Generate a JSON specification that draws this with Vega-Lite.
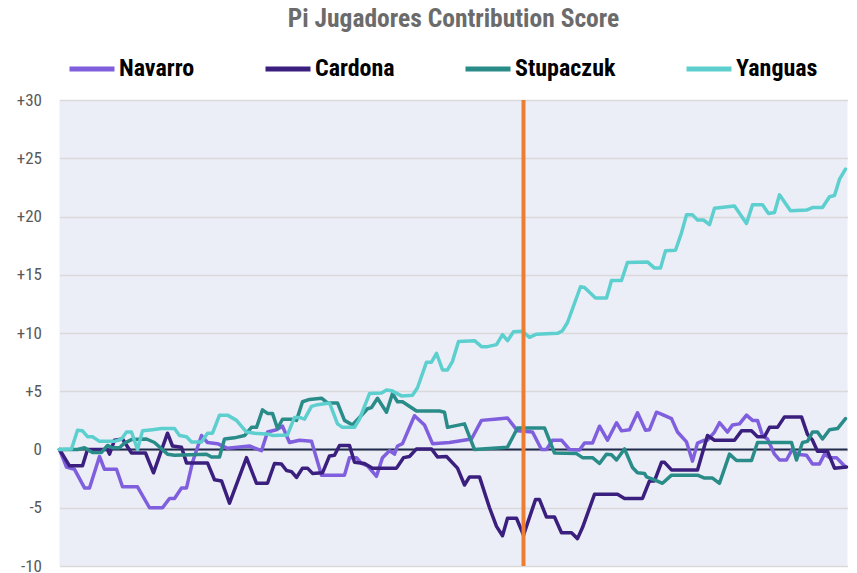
{
  "$schema": "https://vega.github.io/schema/vega-lite/v6.json",
  "autosize": {"type": "none"},
  "width": 788,
  "height": 466,
  "padding": {"left": 59.5, "top": 100, "right": 9.5, "bottom": 7},
  "background": "white",
  "title": {
    "text": "Pi Jugadores Contribution Score",
    "anchor": "middle",
    "frame": "group",
    "font": "Roboto Condensed, Liberation Sans Narrow, Roboto, sans-serif",
    "fontSize": 25.5,
    "fontWeight": "bold",
    "color": "#6b6b6b",
    "offset": 12
  },
  "config": {
    "view": {"fill": "#eceef7", "stroke": null},
    "axis": {"labelFont": "Roboto Condensed, Liberation Sans Narrow, Roboto, sans-serif"}
  },
  "datasets": {
    "series": [
      {"s":"Navarro","x":0,"v":0},{"s":"Navarro","x":7,"v":-1.5},{"s":"Navarro","x":15,"v":-1.7},{"s":"Navarro","x":25,"v":-3.3},{"s":"Navarro","x":30,"v":-3.3},{"s":"Navarro","x":40,"v":-0.6},{"s":"Navarro","x":45,"v":-1.7},{"s":"Navarro","x":57,"v":-1.7},{"s":"Navarro","x":63,"v":-3.2},{"s":"Navarro","x":78,"v":-3.2},{"s":"Navarro","x":90,"v":-5.0},{"s":"Navarro","x":103,"v":-5.0},{"s":"Navarro","x":110,"v":-4.2},{"s":"Navarro","x":115,"v":-4.2},{"s":"Navarro","x":122,"v":-3.3},{"s":"Navarro","x":127,"v":-3.3},{"s":"Navarro","x":133,"v":-1.1},{"s":"Navarro","x":142,"v":1.2},{"s":"Navarro","x":148,"v":0.6},{"s":"Navarro","x":158,"v":0.5},{"s":"Navarro","x":168,"v":0.1},{"s":"Navarro","x":190,"v":0.3},{"s":"Navarro","x":202,"v":-0.1},{"s":"Navarro","x":208,"v":1.5},{"s":"Navarro","x":217,"v":1.7},{"s":"Navarro","x":223,"v":2.0},{"s":"Navarro","x":230,"v":0.6},{"s":"Navarro","x":240,"v":0.8},{"s":"Navarro","x":252,"v":0.7},{"s":"Navarro","x":262,"v":-2.2},{"s":"Navarro","x":285,"v":-2.2},{"s":"Navarro","x":290,"v":-0.7},{"s":"Navarro","x":297,"v":-0.7},{"s":"Navarro","x":302,"v":-1.2},{"s":"Navarro","x":308,"v":-1.4},{"s":"Navarro","x":317,"v":-2.3},{"s":"Navarro","x":323,"v":-0.7},{"s":"Navarro","x":330,"v":-0.1},{"s":"Navarro","x":335,"v":-0.4},{"s":"Navarro","x":338,"v":0.3},{"s":"Navarro","x":343,"v":0.5},{"s":"Navarro","x":355,"v":2.9},{"s":"Navarro","x":365,"v":2.1},{"s":"Navarro","x":373,"v":0.5},{"s":"Navarro","x":390,"v":0.6},{"s":"Navarro","x":398,"v":0.7},{"s":"Navarro","x":412,"v":0.9},{"s":"Navarro","x":422,"v":2.5},{"s":"Navarro","x":435,"v":2.6},{"s":"Navarro","x":448,"v":2.7},{"s":"Navarro","x":458,"v":1.6},{"s":"Navarro","x":473,"v":1.5},{"s":"Navarro","x":482,"v":0},{"s":"Navarro","x":487,"v":0},{"s":"Navarro","x":493,"v":0.8},{"s":"Navarro","x":502,"v":0.8},{"s":"Navarro","x":510,"v":0},{"s":"Navarro","x":520,"v":-0.05},{"s":"Navarro","x":525,"v":0.55},{"s":"Navarro","x":533,"v":0.55},{"s":"Navarro","x":540,"v":2.0},{"s":"Navarro","x":548,"v":0.8},{"s":"Navarro","x":557,"v":2.3},{"s":"Navarro","x":562,"v":1.6},{"s":"Navarro","x":570,"v":1.7},{"s":"Navarro","x":578,"v":3.15},{"s":"Navarro","x":586,"v":1.65},{"s":"Navarro","x":590,"v":1.7},{"s":"Navarro","x":597,"v":3.2},{"s":"Navarro","x":603,"v":3.0},{"s":"Navarro","x":612,"v":2.65},{"s":"Navarro","x":618,"v":1.5},{"s":"Navarro","x":627,"v":0.65},{"s":"Navarro","x":633,"v":-1.0},{"s":"Navarro","x":638,"v":0.55},{"s":"Navarro","x":645,"v":0.8},{"s":"Navarro","x":648,"v":0.8},{"s":"Navarro","x":655,"v":1.5},{"s":"Navarro","x":660,"v":2.3},{"s":"Navarro","x":668,"v":1.5},{"s":"Navarro","x":673,"v":2.1},{"s":"Navarro","x":680,"v":2.2},{"s":"Navarro","x":687,"v":2.95},{"s":"Navarro","x":693,"v":2.5},{"s":"Navarro","x":698,"v":2.5},{"s":"Navarro","x":703,"v":1.2},{"s":"Navarro","x":708,"v":0.9},{"s":"Navarro","x":715,"v":-0.4},{"s":"Navarro","x":720,"v":-0.9},{"s":"Navarro","x":727,"v":-0.9},{"s":"Navarro","x":733,"v":0.05},{"s":"Navarro","x":737,"v":-0.4},{"s":"Navarro","x":747,"v":-0.5},{"s":"Navarro","x":753,"v":-1.25},{"s":"Navarro","x":760,"v":-1.25},{"s":"Navarro","x":765,"v":-0.4},{"s":"Navarro","x":770,"v":-0.7},{"s":"Navarro","x":777,"v":-0.7},{"s":"Navarro","x":786,"v":-1.5},
      {"s":"Cardona","x":0,"v":0},{"s":"Cardona","x":10,"v":-1.4},{"s":"Cardona","x":23,"v":-1.4},{"s":"Cardona","x":28,"v":0},{"s":"Cardona","x":48,"v":0},{"s":"Cardona","x":50,"v":-0.4},{"s":"Cardona","x":55,"v":0.8},{"s":"Cardona","x":63,"v":0.9},{"s":"Cardona","x":72,"v":-0.3},{"s":"Cardona","x":86,"v":-0.3},{"s":"Cardona","x":94,"v":-2.0},{"s":"Cardona","x":108,"v":1.4},{"s":"Cardona","x":113,"v":0.3},{"s":"Cardona","x":122,"v":0.2},{"s":"Cardona","x":127,"v":-1.15},{"s":"Cardona","x":148,"v":-1.15},{"s":"Cardona","x":155,"v":-2.6},{"s":"Cardona","x":162,"v":-2.7},{"s":"Cardona","x":170,"v":-4.6},{"s":"Cardona","x":187,"v":-0.7},{"s":"Cardona","x":197,"v":-2.9},{"s":"Cardona","x":208,"v":-2.9},{"s":"Cardona","x":215,"v":-1.2},{"s":"Cardona","x":222,"v":-1.25},{"s":"Cardona","x":227,"v":-1.8},{"s":"Cardona","x":232,"v":-1.9},{"s":"Cardona","x":237,"v":-2.4},{"s":"Cardona","x":243,"v":-1.6},{"s":"Cardona","x":248,"v":-1.6},{"s":"Cardona","x":253,"v":-2.05},{"s":"Cardona","x":263,"v":-2.0},{"s":"Cardona","x":270,"v":-0.55},{"s":"Cardona","x":275,"v":-0.5},{"s":"Cardona","x":280,"v":0.35},{"s":"Cardona","x":290,"v":0.35},{"s":"Cardona","x":295,"v":-1.1},{"s":"Cardona","x":305,"v":-1.2},{"s":"Cardona","x":313,"v":-1.6},{"s":"Cardona","x":337,"v":-1.6},{"s":"Cardona","x":344,"v":-0.7},{"s":"Cardona","x":350,"v":-0.6},{"s":"Cardona","x":357,"v":0.05},{"s":"Cardona","x":372,"v":0.05},{"s":"Cardona","x":378,"v":-0.65},{"s":"Cardona","x":387,"v":-0.6},{"s":"Cardona","x":398,"v":-1.6},{"s":"Cardona","x":405,"v":-3.05},{"s":"Cardona","x":410,"v":-2.35},{"s":"Cardona","x":420,"v":-2.35},{"s":"Cardona","x":430,"v":-5.0},{"s":"Cardona","x":437,"v":-6.6},{"s":"Cardona","x":443,"v":-7.4},{"s":"Cardona","x":448,"v":-5.9},{"s":"Cardona","x":457,"v":-5.9},{"s":"Cardona","x":464,"v":-7.35},{"s":"Cardona","x":476,"v":-4.3},{"s":"Cardona","x":480,"v":-4.3},{"s":"Cardona","x":487,"v":-5.8},{"s":"Cardona","x":495,"v":-5.8},{"s":"Cardona","x":502,"v":-7.15},{"s":"Cardona","x":512,"v":-7.15},{"s":"Cardona","x":518,"v":-7.65},{"s":"Cardona","x":523,"v":-6.7},{"s":"Cardona","x":535,"v":-3.85},{"s":"Cardona","x":558,"v":-3.85},{"s":"Cardona","x":565,"v":-4.2},{"s":"Cardona","x":583,"v":-4.2},{"s":"Cardona","x":590,"v":-2.7},{"s":"Cardona","x":595,"v":-2.7},{"s":"Cardona","x":602,"v":-1.1},{"s":"Cardona","x":605,"v":-1.1},{"s":"Cardona","x":612,"v":-1.75},{"s":"Cardona","x":638,"v":-1.75},{"s":"Cardona","x":648,"v":1.2},{"s":"Cardona","x":655,"v":0.8},{"s":"Cardona","x":675,"v":0.8},{"s":"Cardona","x":682,"v":1.6},{"s":"Cardona","x":692,"v":1.6},{"s":"Cardona","x":698,"v":1.1},{"s":"Cardona","x":705,"v":1.1},{"s":"Cardona","x":710,"v":1.9},{"s":"Cardona","x":718,"v":1.9},{"s":"Cardona","x":725,"v":2.8},{"s":"Cardona","x":742,"v":2.8},{"s":"Cardona","x":748,"v":1.3},{"s":"Cardona","x":753,"v":0.8},{"s":"Cardona","x":758,"v":-0.15},{"s":"Cardona","x":768,"v":-0.15},{"s":"Cardona","x":775,"v":-1.6},{"s":"Cardona","x":787,"v":-1.5},
      {"s":"Stupaczuk","x":0,"v":0},{"s":"Stupaczuk","x":18,"v":0},{"s":"Stupaczuk","x":25,"v":0.15},{"s":"Stupaczuk","x":33,"v":-0.25},{"s":"Stupaczuk","x":42,"v":-0.25},{"s":"Stupaczuk","x":48,"v":0.35},{"s":"Stupaczuk","x":53,"v":0.15},{"s":"Stupaczuk","x":60,"v":0.15},{"s":"Stupaczuk","x":65,"v":0.55},{"s":"Stupaczuk","x":72,"v":0.85},{"s":"Stupaczuk","x":87,"v":0.9},{"s":"Stupaczuk","x":95,"v":0.6},{"s":"Stupaczuk","x":108,"v":-0.4},{"s":"Stupaczuk","x":115,"v":-0.5},{"s":"Stupaczuk","x":147,"v":-0.4},{"s":"Stupaczuk","x":152,"v":-0.65},{"s":"Stupaczuk","x":160,"v":-0.65},{"s":"Stupaczuk","x":165,"v":0.9},{"s":"Stupaczuk","x":175,"v":1.0},{"s":"Stupaczuk","x":185,"v":1.2},{"s":"Stupaczuk","x":192,"v":1.9},{"s":"Stupaczuk","x":197,"v":1.9},{"s":"Stupaczuk","x":203,"v":3.4},{"s":"Stupaczuk","x":208,"v":3.1},{"s":"Stupaczuk","x":213,"v":3.1},{"s":"Stupaczuk","x":218,"v":1.8},{"s":"Stupaczuk","x":223,"v":2.6},{"s":"Stupaczuk","x":232,"v":2.6},{"s":"Stupaczuk","x":237,"v":2.5},{"s":"Stupaczuk","x":243,"v":4.1},{"s":"Stupaczuk","x":250,"v":4.3},{"s":"Stupaczuk","x":262,"v":4.4},{"s":"Stupaczuk","x":268,"v":4.0},{"s":"Stupaczuk","x":278,"v":4.0},{"s":"Stupaczuk","x":285,"v":2.5},{"s":"Stupaczuk","x":293,"v":2.1},{"s":"Stupaczuk","x":308,"v":3.5},{"s":"Stupaczuk","x":312,"v":3.6},{"s":"Stupaczuk","x":318,"v":4.4},{"s":"Stupaczuk","x":327,"v":3.2},{"s":"Stupaczuk","x":333,"v":4.8},{"s":"Stupaczuk","x":338,"v":4.1},{"s":"Stupaczuk","x":343,"v":4.1},{"s":"Stupaczuk","x":357,"v":3.3},{"s":"Stupaczuk","x":380,"v":3.3},{"s":"Stupaczuk","x":385,"v":3.2},{"s":"Stupaczuk","x":388,"v":1.9},{"s":"Stupaczuk","x":405,"v":2.2},{"s":"Stupaczuk","x":415,"v":0},{"s":"Stupaczuk","x":448,"v":0.2},{"s":"Stupaczuk","x":458,"v":1.85},{"s":"Stupaczuk","x":485,"v":1.85},{"s":"Stupaczuk","x":495,"v":-0.3},{"s":"Stupaczuk","x":517,"v":-0.35},{"s":"Stupaczuk","x":523,"v":-0.7},{"s":"Stupaczuk","x":533,"v":-0.7},{"s":"Stupaczuk","x":540,"v":-1.2},{"s":"Stupaczuk","x":547,"v":-0.4},{"s":"Stupaczuk","x":552,"v":-0.45},{"s":"Stupaczuk","x":557,"v":-0.9},{"s":"Stupaczuk","x":565,"v":0.05},{"s":"Stupaczuk","x":573,"v":-1.55},{"s":"Stupaczuk","x":578,"v":-2.0},{"s":"Stupaczuk","x":585,"v":-2.05},{"s":"Stupaczuk","x":587,"v":-2.35},{"s":"Stupaczuk","x":595,"v":-2.6},{"s":"Stupaczuk","x":603,"v":-2.9},{"s":"Stupaczuk","x":612,"v":-2.2},{"s":"Stupaczuk","x":638,"v":-2.2},{"s":"Stupaczuk","x":645,"v":-2.45},{"s":"Stupaczuk","x":653,"v":-2.45},{"s":"Stupaczuk","x":660,"v":-2.9},{"s":"Stupaczuk","x":670,"v":-0.4},{"s":"Stupaczuk","x":677,"v":-0.95},{"s":"Stupaczuk","x":692,"v":-0.95},{"s":"Stupaczuk","x":698,"v":0.6},{"s":"Stupaczuk","x":732,"v":0.6},{"s":"Stupaczuk","x":737,"v":-0.9},{"s":"Stupaczuk","x":743,"v":0.6},{"s":"Stupaczuk","x":748,"v":0.7},{"s":"Stupaczuk","x":753,"v":1.5},{"s":"Stupaczuk","x":758,"v":1.5},{"s":"Stupaczuk","x":763,"v":0.9},{"s":"Stupaczuk","x":770,"v":1.7},{"s":"Stupaczuk","x":778,"v":1.8},{"s":"Stupaczuk","x":786,"v":2.65},
      {"s":"Yanguas","x":0,"v":0},{"s":"Yanguas","x":12,"v":0.05},{"s":"Yanguas","x":18,"v":1.65},{"s":"Yanguas","x":23,"v":1.6},{"s":"Yanguas","x":28,"v":1.1},{"s":"Yanguas","x":33,"v":1.1},{"s":"Yanguas","x":40,"v":0.7},{"s":"Yanguas","x":55,"v":0.7},{"s":"Yanguas","x":62,"v":0.9},{"s":"Yanguas","x":67,"v":1.5},{"s":"Yanguas","x":72,"v":1.5},{"s":"Yanguas","x":78,"v":0},{"s":"Yanguas","x":83,"v":1.6},{"s":"Yanguas","x":93,"v":1.7},{"s":"Yanguas","x":102,"v":1.8},{"s":"Yanguas","x":115,"v":1.8},{"s":"Yanguas","x":120,"v":1.2},{"s":"Yanguas","x":127,"v":1.1},{"s":"Yanguas","x":132,"v":0.65},{"s":"Yanguas","x":142,"v":0.65},{"s":"Yanguas","x":148,"v":1.4},{"s":"Yanguas","x":153,"v":1.4},{"s":"Yanguas","x":160,"v":2.95},{"s":"Yanguas","x":168,"v":2.95},{"s":"Yanguas","x":177,"v":2.5},{"s":"Yanguas","x":187,"v":1.5},{"s":"Yanguas","x":195,"v":1.4},{"s":"Yanguas","x":210,"v":1.3},{"s":"Yanguas","x":213,"v":1.2},{"s":"Yanguas","x":228,"v":1.25},{"s":"Yanguas","x":235,"v":2.75},{"s":"Yanguas","x":240,"v":2.75},{"s":"Yanguas","x":245,"v":2.6},{"s":"Yanguas","x":252,"v":3.7},{"s":"Yanguas","x":258,"v":3.85},{"s":"Yanguas","x":270,"v":4.0},{"s":"Yanguas","x":278,"v":2.2},{"s":"Yanguas","x":283,"v":1.9},{"s":"Yanguas","x":295,"v":1.9},{"s":"Yanguas","x":300,"v":2.6},{"s":"Yanguas","x":310,"v":4.8},{"s":"Yanguas","x":322,"v":4.85},{"s":"Yanguas","x":327,"v":5.1},{"s":"Yanguas","x":332,"v":5.05},{"s":"Yanguas","x":342,"v":4.6},{"s":"Yanguas","x":353,"v":4.65},{"s":"Yanguas","x":358,"v":5.3},{"s":"Yanguas","x":367,"v":7.5},{"s":"Yanguas","x":372,"v":7.5},{"s":"Yanguas","x":377,"v":8.26},{"s":"Yanguas","x":383,"v":6.83},{"s":"Yanguas","x":388,"v":6.83},{"s":"Yanguas","x":393,"v":7.57},{"s":"Yanguas","x":399,"v":9.26},{"s":"Yanguas","x":415,"v":9.34},{"s":"Yanguas","x":422,"v":8.83},{"s":"Yanguas","x":428,"v":8.83},{"s":"Yanguas","x":437,"v":9.0},{"s":"Yanguas","x":443,"v":9.86},{"s":"Yanguas","x":448,"v":9.34},{"s":"Yanguas","x":454,"v":10.1},{"s":"Yanguas","x":463,"v":10.14},{"s":"Yanguas","x":470,"v":9.63},{"s":"Yanguas","x":477,"v":9.9},{"s":"Yanguas","x":498,"v":9.97},{"s":"Yanguas","x":503,"v":10.2},{"s":"Yanguas","x":508,"v":10.9},{"s":"Yanguas","x":521,"v":13.97},{"s":"Yanguas","x":525,"v":13.9},{"s":"Yanguas","x":536,"v":13.0},{"s":"Yanguas","x":547,"v":13.0},{"s":"Yanguas","x":552,"v":14.5},{"s":"Yanguas","x":562,"v":14.5},{"s":"Yanguas","x":568,"v":16.06},{"s":"Yanguas","x":588,"v":16.1},{"s":"Yanguas","x":595,"v":15.57},{"s":"Yanguas","x":601,"v":15.57},{"s":"Yanguas","x":606,"v":17.06},{"s":"Yanguas","x":616,"v":17.1},{"s":"Yanguas","x":622,"v":18.6},{"s":"Yanguas","x":627,"v":20.14},{"s":"Yanguas","x":633,"v":20.14},{"s":"Yanguas","x":638,"v":19.7},{"s":"Yanguas","x":644,"v":19.7},{"s":"Yanguas","x":650,"v":19.3},{"s":"Yanguas","x":655,"v":20.7},{"s":"Yanguas","x":675,"v":20.9},{"s":"Yanguas","x":687,"v":19.4},{"s":"Yanguas","x":693,"v":21.0},{"s":"Yanguas","x":703,"v":21.0},{"s":"Yanguas","x":709,"v":20.26},{"s":"Yanguas","x":715,"v":20.35},{"s":"Yanguas","x":720,"v":21.86},{"s":"Yanguas","x":731,"v":20.49},{"s":"Yanguas","x":747,"v":20.55},{"s":"Yanguas","x":753,"v":20.77},{"s":"Yanguas","x":763,"v":20.77},{"s":"Yanguas","x":770,"v":21.7},{"s":"Yanguas","x":775,"v":21.8},{"s":"Yanguas","x":780,"v":23.2},{"s":"Yanguas","x":786,"v":24.06}
    ],
    "zero": [{"v": 0}],
    "marker": [{"x": 464}]
  },
  "layer": [
    {
      "data": {"name": "zero"},
      "mark": {"type": "rule", "color": "#1f2a4d", "strokeWidth": 2},
      "encoding": {
        "y": {
          "field": "v", "type": "quantitative",
          "scale": {"domain": [-10, 30], "nice": false, "zero": false},
          "axis": {
            "values": [-10, -5, 0, 5, 10, 15, 20, 25, 30],
            "labelExpr": "datum.value > 0 ? '+' + datum.value : '' + datum.value",
            "title": null,
            "domain": false,
            "ticks": false,
            "grid": true,
            "gridColor": "#d9d9d9",
            "gridWidth": 1.5,
            "gridOpacity": 1,
            "labelFontSize": 17,
            "labelColor": "#595959",
            "labelPadding": 18
          }
        }
      }
    },
    {
      "data": {"name": "series"},
      "mark": {"type": "line", "strokeWidth": 3.5, "strokeJoin": "round", "strokeCap": "round"},
      "encoding": {
        "x": {"field": "x", "type": "quantitative", "scale": {"domain": [0, 788], "nice": false, "zero": false}, "axis": null},
        "y": {"field": "v", "type": "quantitative"},
        "color": {
          "field": "s", "type": "nominal",
          "scale": {"domain": ["Navarro", "Cardona", "Stupaczuk", "Yanguas"], "range": ["#7f5fdd", "#3b1f7e", "#2a8c89", "#5ccfce"]},
          "legend": {
            "title": null,
            "orient": "none",
            "legendX": 7.5,
            "legendY": -56,
            "direction": "horizontal",
            "columns": 4,
            "columnPadding": 60,
            "symbolType": "stroke",
            "symbolSize": 2025,
            "symbolStrokeWidth": 5,
            "labelFont": "Roboto Condensed, Liberation Sans Narrow, Roboto, sans-serif",
            "labelFontSize": 24,
            "labelFontWeight": "bold",
            "labelColor": "#000000",
            "labelOffset": 2
          }
        },
        "order": {"field": "x", "type": "quantitative"}
      }
    },
    {
      "data": {"name": "marker"},
      "mark": {"type": "rule", "color": "#ed7d31", "strokeWidth": 4},
      "encoding": {"x": {"field": "x", "type": "quantitative"}}
    }
  ]
}
